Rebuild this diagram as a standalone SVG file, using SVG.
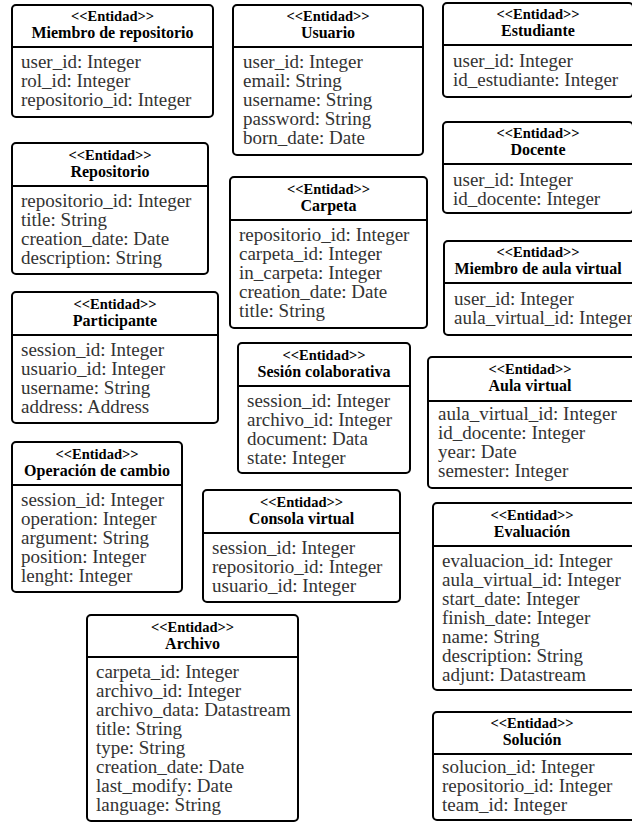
<svg xmlns="http://www.w3.org/2000/svg" width="632" height="823" viewBox="0 0 632 823">
  <style>
    .box { fill: #ffffff; stroke: #000000; stroke-width: 2; }
    .sep { stroke: #000000; stroke-width: 2; }
    .st { font-family: 'Liberation Serif', serif; font-size: 16px; font-weight: bold; fill: #000000; text-anchor: middle; }
    .st.stereo { font-size: 14.5px; }
    .at { font-family: 'Liberation Serif', serif; font-size: 19px; fill: #333333; }
  </style>
  <rect width="632" height="823" fill="#ffffff"/>

  <g id="miembro-repositorio">
    <rect class="box" x="12" y="5" width="201" height="112" rx="4"/>
    <line class="sep" x1="12" y1="47" x2="213" y2="47"/>
    <text class="st stereo" x="112.5" y="21">&lt;&lt;Entidad&gt;&gt;</text>
    <text class="st" x="112.5" y="38">Miembro de repositorio</text>
    <text class="at" x="21" y="68">user_id: Integer</text>
    <text class="at" x="21" y="87">rol_id: Integer</text>
    <text class="at" x="21" y="106">repositorio_id: Integer</text>
  </g>

  <g id="usuario">
    <rect class="box" x="233" y="5" width="190" height="150" rx="4"/>
    <line class="sep" x1="233" y1="47" x2="423" y2="47"/>
    <text class="st stereo" x="328" y="21">&lt;&lt;Entidad&gt;&gt;</text>
    <text class="st" x="328" y="38">Usuario</text>
    <text class="at" x="243" y="68">user_id: Integer</text>
    <text class="at" x="243" y="87">email: String</text>
    <text class="at" x="243" y="106">username: String</text>
    <text class="at" x="243" y="125">password: String</text>
    <text class="at" x="243" y="144">born_date: Date</text>
  </g>

  <g id="estudiante">
    <rect class="box" x="443" y="3" width="190" height="94" rx="4"/>
    <line class="sep" x1="443" y1="45" x2="633" y2="45"/>
    <text class="st stereo" x="538" y="19">&lt;&lt;Entidad&gt;&gt;</text>
    <text class="st" x="538" y="36">Estudiante</text>
    <text class="at" x="453" y="67">user_id: Integer</text>
    <text class="at" x="453" y="86">id_estudiante: Integer</text>
  </g>

  <g id="docente">
    <rect class="box" x="443" y="122" width="190" height="91" rx="4"/>
    <line class="sep" x1="443" y1="164" x2="633" y2="164"/>
    <text class="st stereo" x="538" y="138">&lt;&lt;Entidad&gt;&gt;</text>
    <text class="st" x="538" y="155">Docente</text>
    <text class="at" x="453" y="186">user_id: Integer</text>
    <text class="at" x="453" y="205">id_docente: Integer</text>
  </g>

  <g id="repositorio">
    <rect class="box" x="12" y="143" width="196" height="131" rx="4"/>
    <line class="sep" x1="12" y1="186" x2="208" y2="186"/>
    <text class="st stereo" x="110" y="160">&lt;&lt;Entidad&gt;&gt;</text>
    <text class="st" x="110" y="177">Repositorio</text>
    <text class="at" x="21" y="207">repositorio_id: Integer</text>
    <text class="at" x="21" y="226">title: String</text>
    <text class="at" x="21" y="245">creation_date: Date</text>
    <text class="at" x="21" y="264">description: String</text>
  </g>

  <g id="carpeta">
    <rect class="box" x="230" y="177" width="197" height="151" rx="4"/>
    <line class="sep" x1="230" y1="220" x2="427" y2="220"/>
    <text class="st stereo" x="328.5" y="194">&lt;&lt;Entidad&gt;&gt;</text>
    <text class="st" x="328.5" y="211">Carpeta</text>
    <text class="at" x="239" y="241">repositorio_id: Integer</text>
    <text class="at" x="239" y="260">carpeta_id: Integer</text>
    <text class="at" x="239" y="279">in_carpeta: Integer</text>
    <text class="at" x="239" y="298">creation_date: Date</text>
    <text class="at" x="239" y="317">title: String</text>
  </g>

  <g id="miembro-aula-virtual">
    <rect class="box" x="444" y="241" width="200" height="94" rx="4"/>
    <line class="sep" x1="444" y1="283" x2="644" y2="283"/>
    <text class="st stereo" x="538" y="257">&lt;&lt;Entidad&gt;&gt;</text>
    <text class="st" x="538" y="274">Miembro de aula virtual</text>
    <text class="at" x="454" y="305">user_id: Integer</text>
    <text class="at" x="454" y="324">aula_virtual_id: Integer</text>
  </g>

  <g id="participante">
    <rect class="box" x="12" y="292" width="206" height="131" rx="4"/>
    <line class="sep" x1="12" y1="335" x2="218" y2="335"/>
    <text class="st stereo" x="115" y="309">&lt;&lt;Entidad&gt;&gt;</text>
    <text class="st" x="115" y="326">Participante</text>
    <text class="at" x="21" y="356">session_id: Integer</text>
    <text class="at" x="21" y="375">usuario_id: Integer</text>
    <text class="at" x="21" y="394">username: String</text>
    <text class="at" x="21" y="413">address: Address</text>
  </g>

  <g id="sesion-colaborativa">
    <rect class="box" x="238" y="343" width="172" height="130" rx="4"/>
    <line class="sep" x1="238" y1="386" x2="410" y2="386"/>
    <text class="st stereo" x="324" y="360">&lt;&lt;Entidad&gt;&gt;</text>
    <text class="st" x="324" y="377">Sesión colaborativa</text>
    <text class="at" x="247" y="407">session_id: Integer</text>
    <text class="at" x="247" y="426">archivo_id: Integer</text>
    <text class="at" x="247" y="445">document: Data</text>
    <text class="at" x="247" y="464">state: Integer</text>
  </g>

  <g id="aula-virtual">
    <rect class="box" x="428" y="357" width="210" height="131" rx="4"/>
    <line class="sep" x1="428" y1="401" x2="638" y2="401"/>
    <text class="st stereo" x="530" y="374">&lt;&lt;Entidad&gt;&gt;</text>
    <text class="st" x="530" y="391">Aula virtual</text>
    <text class="at" x="438" y="420">aula_virtual_id: Integer</text>
    <text class="at" x="438" y="439">id_docente: Integer</text>
    <text class="at" x="438" y="458">year: Date</text>
    <text class="at" x="438" y="477">semester: Integer</text>
  </g>

  <g id="operacion-cambio">
    <rect class="box" x="12" y="442" width="170" height="150" rx="4"/>
    <line class="sep" x1="12" y1="485" x2="182" y2="485"/>
    <text class="st stereo" x="97" y="459">&lt;&lt;Entidad&gt;&gt;</text>
    <text class="st" x="97" y="476">Operación de cambio</text>
    <text class="at" x="21" y="506">session_id: Integer</text>
    <text class="at" x="21" y="525">operation: Integer</text>
    <text class="at" x="21" y="544">argument: String</text>
    <text class="at" x="21" y="563">position: Integer</text>
    <text class="at" x="21" y="582">lenght: Integer</text>
  </g>

  <g id="consola-virtual">
    <rect class="box" x="203" y="490" width="197" height="112" rx="4"/>
    <line class="sep" x1="203" y1="533" x2="400" y2="533"/>
    <text class="st stereo" x="301.5" y="507">&lt;&lt;Entidad&gt;&gt;</text>
    <text class="st" x="301.5" y="524">Consola virtual</text>
    <text class="at" x="212" y="554">session_id: Integer</text>
    <text class="at" x="212" y="573">repositorio_id: Integer</text>
    <text class="at" x="212" y="592">usuario_id: Integer</text>
  </g>

  <g id="evaluacion">
    <rect class="box" x="433" y="503" width="205" height="187" rx="4"/>
    <line class="sep" x1="433" y1="546" x2="638" y2="546"/>
    <text class="st stereo" x="532" y="520">&lt;&lt;Entidad&gt;&gt;</text>
    <text class="st" x="532" y="537">Evaluación</text>
    <text class="at" x="442" y="567">evaluacion_id: Integer</text>
    <text class="at" x="442" y="586">aula_virtual_id: Integer</text>
    <text class="at" x="442" y="605">start_date: Integer</text>
    <text class="at" x="442" y="624">finish_date: Integer</text>
    <text class="at" x="442" y="643">name: String</text>
    <text class="at" x="442" y="662">description: String</text>
    <text class="at" x="442" y="681">adjunt: Datastream</text>
  </g>

  <g id="archivo">
    <rect class="box" x="87" y="615" width="211" height="206" rx="4"/>
    <line class="sep" x1="87" y1="657" x2="298" y2="657"/>
    <text class="st stereo" x="192.5" y="632">&lt;&lt;Entidad&gt;&gt;</text>
    <text class="st" x="192.5" y="649">Archivo</text>
    <text class="at" x="96" y="678">carpeta_id: Integer</text>
    <text class="at" x="96" y="697">archivo_id: Integer</text>
    <text class="at" x="96" y="716">archivo_data: Datastream</text>
    <text class="at" x="96" y="735">title: String</text>
    <text class="at" x="96" y="754">type: String</text>
    <text class="at" x="96" y="773">creation_date: Date</text>
    <text class="at" x="96" y="792">last_modify: Date</text>
    <text class="at" x="96" y="811">language: String</text>
  </g>

  <g id="solucion">
    <rect class="box" x="433" y="712" width="205" height="108" rx="4"/>
    <line class="sep" x1="433" y1="754" x2="638" y2="754"/>
    <text class="st stereo" x="532" y="728">&lt;&lt;Entidad&gt;&gt;</text>
    <text class="st" x="532" y="745">Solución</text>
    <text class="at" x="442" y="773">solucion_id: Integer</text>
    <text class="at" x="442" y="792">repositorio_id: Integer</text>
    <text class="at" x="442" y="811">team_id: Integer</text>
  </g>

  <g id="connectors"/>
</svg>
